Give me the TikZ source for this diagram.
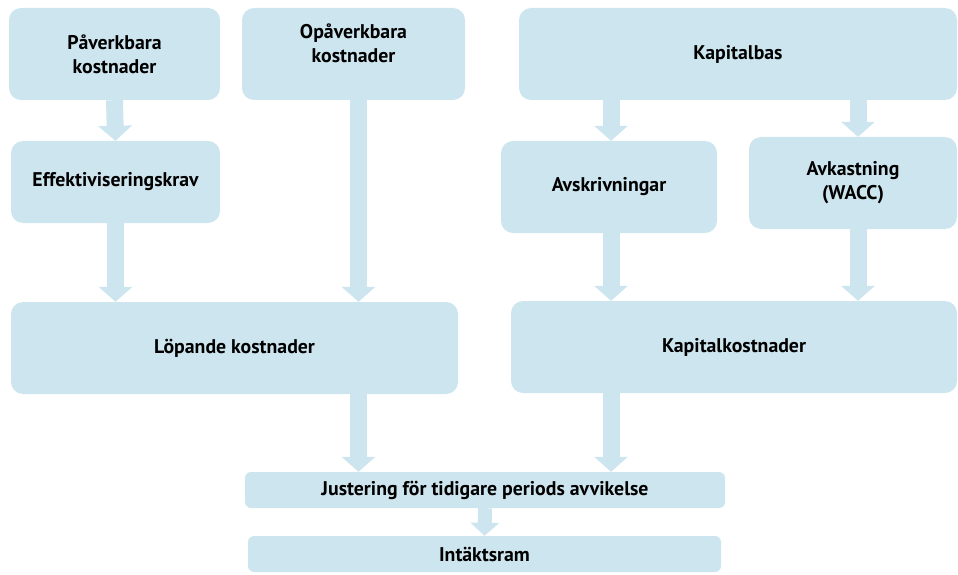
\documentclass[tikz,border=0pt]{standalone}
\usepackage{fontspec}
\setmainfont{PT Sans}
\usetikzlibrary{arrows.meta, calc, positioning}
\definecolor{boxblue}{RGB}{205,229,238}

\begin{document}
\begin{tikzpicture}[x=1pt, y=-1pt,
    box/.style={fill=boxblue, rounded corners=12pt, align=center, inner sep=0pt,
        font=\bfseries\fontsize{19.8}{24}\selectfont},
    slim/.style={box, rounded corners=6pt, minimum height=36pt},
    bar/.style={draw=boxblue, fill=boxblue, line width=17pt,
        -{Triangle[width=33pt, length=15pt]}},
    thinbar/.style={bar, line width=14pt, -{Triangle[width=28pt, length=13pt]}}]
    \useasboundingbox (0,0) rectangle (958,575);

    % top row
    \node[box, minimum width=211pt, minimum height=92pt] (pav) at (114.5,54) {Påverkbara\\kostnader};
    \node[box, minimum width=223pt, minimum height=92pt] (opav) at (353.5,54) {};
    \node[align=center, font=\bfseries\fontsize{19.8}{24}\selectfont] (opavtxt) at (353.5,43) {Opåverkbara\\kostnader};
    \node[box, minimum width=438pt, minimum height=92pt] (kapbas) at (738,54) {Kapitalbas};

    % second row
    \node[box, minimum width=209pt, minimum height=82pt] (eff) at (115.5,182) {Effektiviseringskrav};
    \node[box, minimum width=216pt, minimum height=92pt] (avskr) at (609,187) {Avskrivningar};
    \node[box, minimum width=208pt, minimum height=92pt] (avk) at (853,183) {Avkastning\\(WACC)};

    % third row
    \node[box, minimum width=447pt, minimum height=92pt] (lop) at (234.5,348) {Löpande kostnader};
    \node[box, minimum width=446pt, minimum height=92pt] (kapk) at (734,347) {Kapitalkostnader};

    % bottom
    \node[slim, minimum width=480pt] (just) at (485,490) {Justering för tidigare periods avvikelse};
    \node[slim, minimum width=473pt] (ram) at (484.5,554) {Intäktsram};

    % arrows
    \draw[bar] (pav.south) -- (eff.north);
    \draw[bar] (eff.south) -- (eff.south |- lop.north);
    \draw[bar] ([xshift=5pt]opav.south) -- ([xshift=5pt]opav.south |- lop.north);
    \draw[bar] ([xshift=2pt]avskr.north |- kapbas.south) -- ([xshift=2pt]avskr.north);
    \draw[bar] ([xshift=5pt]avk.north |- kapbas.south) -- ([xshift=5pt]avk.north);
    \draw[bar] ([xshift=2pt]avskr.south) -- ([xshift=2pt]avskr.south |- kapk.north);
    \draw[bar] ([xshift=5pt]avk.south) -- ([xshift=5pt]avk.south |- kapk.north);
    \draw[bar] ([xshift=5pt]opav.south |- lop.south) -- ([xshift=5pt]opav.south |- just.north);
    \draw[bar] ([xshift=2pt]avskr.south |- kapk.south) -- ([xshift=2pt]avskr.south |- just.north);
    \draw[thinbar] (just.south) -- (ram.north);
\end{tikzpicture}
\end{document}
